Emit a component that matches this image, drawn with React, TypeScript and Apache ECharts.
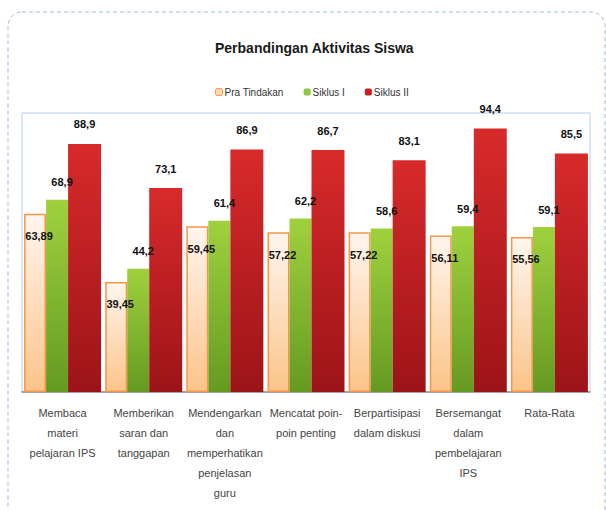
import React, { useEffect, useRef } from "react";
import * as echarts from "echarts";

const categories = [
  "Membaca\nmateri\npelajaran IPS",
  "Memberikan\nsaran dan\ntanggapan",
  "Mendengarkan\ndan\nmemperhatikan\npenjelasan\nguru",
  "Mencatat poin-\npoin penting",
  "Berpartisipasi\ndalam diskusi",
  "Bersemangat\ndalam\npembelajaran\nIPS",
  "Rata-Rata",
];
const praTindakan = [63.89, 39.45, 59.45, 57.22, 57.22, 56.11, 55.56];
const siklus1 = [68.9, 44.2, 61.4, 62.2, 58.6, 59.4, 59.1];
const siklus2 = [88.9, 73.1, 86.9, 86.7, 83.1, 94.4, 85.5];
const seriesNames = ["Pra Tindakan", "Siklus I", "Siklus II"];

const FONT = "'Liberation Sans Narrow', 'Liberation Sans', Arial, sans-serif";

const grad = (a: string, b: string) =>
  new echarts.graphic.LinearGradient(0, 0, 0, 1, [
    { offset: 0, color: a },
    { offset: 1, color: b },
  ]);

const fmt = (p: any) => String(p.value).replace(".", ",");

export default function App() {
  const ref = useRef<HTMLDivElement>(null);
  useEffect(() => {
    if (!ref.current) return;
    const chart = echarts.init(ref.current, undefined, { renderer: "svg" });
    const labelBase = {
      show: true,
      formatter: fmt,
      fontFamily: FONT,
      fontWeight: "bold" as const,
      fontSize: 11,
      color: "#111",
    };
    chart.setOption({
      animation: false,
      backgroundColor: "#fff",
      title: {
        text: "Perbandingan Aktivitas Siswa",
        left: 210,
        top: 36,
        textStyle: { fontFamily: FONT, fontWeight: "bold", fontSize: 14, color: "#1a1a1a" },
      },
      legend: {
        top: 82,
        left: 210,
        itemWidth: 7,
        itemHeight: 7,
        itemGap: 20,
        textStyle: { fontFamily: FONT, fontSize: 10, color: "#333", padding: [0, 0, 0, -3] },
        data: [
          { name: seriesNames[0], itemStyle: { color: "#fcd7b0", borderColor: "#f79646", borderWidth: 1 } },
          { name: seriesNames[1], itemStyle: { color: "#8dc63f" } },
          { name: seriesNames[2], itemStyle: { color: "#c81e24" } },
        ],
      },
      graphic: [
        {
          type: "rect",
          shape: { x: 8, y: 12, width: 597, height: 510, r: 14 },
          style: { fill: "none", stroke: "#9bb9e3", lineWidth: 1, lineDash: [4, 3] },
          silent: true,
          z: 100,
        },
      ],
      grid: {
        left: 22,
        right: 16,
        top: 113,
        bottom: 118,
        show: true,
        borderColor: "#b5cdee",
        borderWidth: 1,
      },
      xAxis: {
        type: "category",
        data: categories,
        axisLine: { lineStyle: { color: "#8c8c8c", width: 1.5 } },
        axisTick: { show: false },
        axisLabel: {
          interval: 0,
          fontFamily: FONT,
          fontSize: 11,
          lineHeight: 20,
          color: "#444",
          margin: 11,
        },
      },
      yAxis: {
        type: "value",
        min: 0,
        max: 100,
        show: false,
        splitLine: { show: false },
      },
      series: [
        {
          name: seriesNames[0],
          type: "bar",
          data: praTindakan,
          barWidth: 22,
          barGap: "0%",
          itemStyle: {
            color: grad("#fff6ee", "#fbc48a"),
            borderColor: "#f79646",
            borderWidth: 1.5,
          },
          label: { ...labelBase, position: "insideTop", offset: [4, 12] },
        },
        {
          name: seriesNames[1],
          type: "bar",
          data: siklus1,
          barWidth: 22,
          barGap: "0%",
          itemStyle: { color: grad("#9fd13e", "#659a22") },
          label: { ...labelBase, position: "top", offset: [5, -7] },
        },
        {
          name: seriesNames[2],
          type: "bar",
          data: siklus2,
          barWidth: 33,
          barGap: "0%",
          itemStyle: { color: grad("#d82a2b", "#9c1418") },
          label: { ...labelBase, position: "top", offset: [0, -9] },
        },
      ],
    });
    return () => chart.dispose();
  }, []);
  return (
    <div
      ref={ref}
      style={{ position: "absolute", left: 0, top: 0, width: 606, height: 510 }}
    />
  );
}
